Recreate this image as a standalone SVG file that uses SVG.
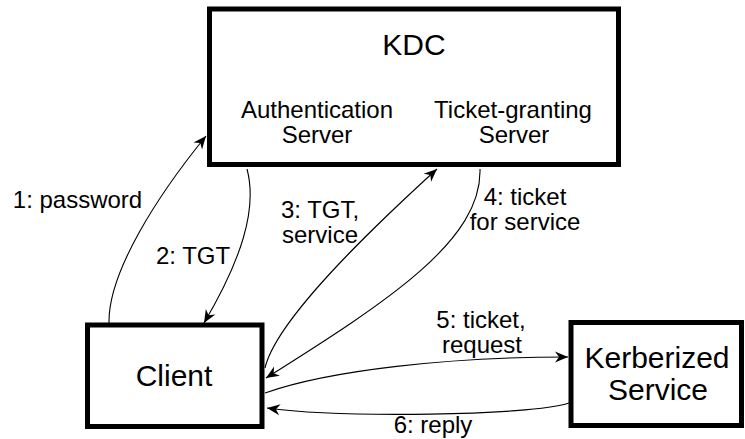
<svg xmlns="http://www.w3.org/2000/svg" width="745" height="439" viewBox="0 0 745 439">
<style>
.box{fill:#fff;stroke:#000;stroke-width:5}
.t{font-family:"Liberation Sans",Arial,sans-serif;fill:#000;text-anchor:middle}
.big{font-size:30px}
.mid{font-size:24px}
.edge{fill:none;stroke:#000;stroke-width:1.1}
</style>
<defs>
<marker id="ah" viewBox="-14 -6 16 12" refX="0" refY="0" markerWidth="16" markerHeight="12" orient="auto" markerUnits="userSpaceOnUse">
<path d="M0,0 L-13,-5.5 L-9,0 L-13,5.5 Z" fill="#000"/>
</marker>
</defs>
<rect width="745" height="439" fill="#fff"/>
<g id="kdc">
<rect class="box" x="209.5" y="9" width="409" height="155.5"/>
<text class="t big" x="414" y="55">KDC</text>
<text class="t mid" x="317" y="118">Authentication</text>
<text class="t mid" x="317" y="143">Server</text>
<text class="t mid" x="513" y="118">Ticket-granting</text>
<text class="t mid" x="514" y="143">Server</text>
</g>
<g id="client">
<rect class="box" x="87.5" y="325" width="174.5" height="101.5"/>
<text class="t big" x="174" y="386">Client</text>
</g>
<g id="service">
<rect class="box" x="571" y="322.5" width="170.5" height="103"/>
<text class="t big" x="657" y="368">Kerberized</text>
<text class="t big" x="658" y="400">Service</text>
</g>
<g id="connectors">
<path class="edge" d="M109,323 C108,272 158,195 206,136" marker-end="url(#ah)"/>
<path class="edge" d="M247,169 C258,210 240,262 204,323" marker-end="url(#ah)"/>
<path class="edge" d="M265,368 C276,320 370,230 437,169" marker-end="url(#ah)"/>
<path class="edge" d="M480,169 C482,240 390,300 266,378" marker-end="url(#ah)"/>
<path class="edge" d="M265,393 C330,370 450,357 568,357" marker-end="url(#ah)"/>
<path class="edge" d="M569,403 C530,416 340,418 267,408" marker-end="url(#ah)"/>
<text class="t mid" x="77.5" y="208">1: password</text>
<text class="t mid" x="193" y="264">2: TGT</text>
<text class="t mid" x="320" y="218">3: TGT,</text>
<text class="t mid" x="320" y="243">service</text>
<text class="t mid" x="525" y="205">4: ticket</text>
<text class="t mid" x="525" y="230">for service</text>
<text class="t mid" x="481" y="328">5: ticket,</text>
<text class="t mid" x="482" y="353">request</text>
<text class="t mid" x="433" y="433">6: reply</text>
</g>
</svg>
